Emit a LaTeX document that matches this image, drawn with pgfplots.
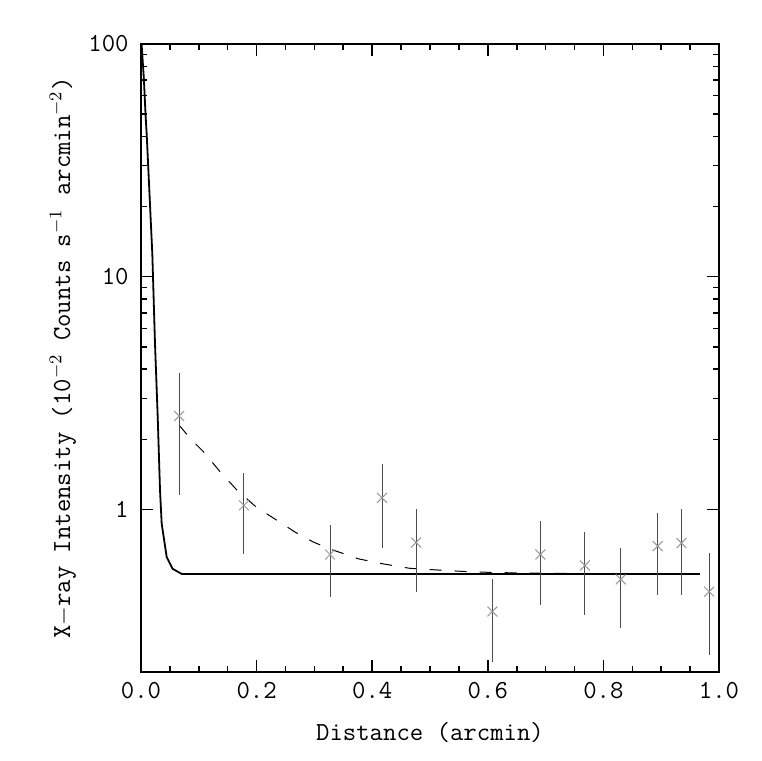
\documentclass[border=0pt]{standalone}
\usepackage{fontspec}
\usepackage{pgfplots}
\pgfplotsset{compat=1.18}
\begin{document}
\begin{tikzpicture}[font=\ttfamily\fontsize{13}{15}\selectfont]
\path[use as bounding box] (-70.5pt,-44.5pt) rectangle (310pt,336pt);
\begin{axis}[
  at={(0pt,0pt)}, anchor=south west,
  width=289pt, height=314pt, scale only axis,
  xmin=0, xmax=1, ymin=0.2, ymax=100, ymode=log,
  /pgf/number format/assume math mode=true,
  xtick={0,0.2,0.4,0.6,0.8,1}, minor x tick num=3,
  xticklabel={\pgfmathprintnumber[fixed,fixed zerofill,precision=1]{\tick}},
  ytick={1,10,100}, log ticks with fixed point,
  tick align=inside,
  major tick length=6pt, minor tick length=3pt,
  every tick/.style={black, line width=0.8pt},
  axis line style={line width=1pt},
  xticklabel style={inner sep=0pt, anchor=north, yshift=-5pt},
  yticklabel style={inner sep=0pt, anchor=east, xshift=-6pt},
  xlabel={Distance (arcmin)},
  xlabel style={at={(axis description cs:0.5,-0.1083)}, anchor=base},
  ylabel={X$-$ray Intensity (10$^{-2}$ Counts s$^{-1}$ arcmin$^{-2}$)},
  ylabel style={at={(axis description cs:-0.1228,0.5)}, anchor=base, rotate=0},
  clip=true,
]
\addplot[black, line width=0.9pt] coordinates {
(0.001,100) (0.005,70.7) (0.008,49) (0.010,40.3) (0.0196,12.5) (0.0242,5.18)
(0.0289,2.5) (0.0329,1.21) (0.0358,0.868) (0.0445,0.623) (0.0548,0.555)
(0.0704,0.528) (0.967,0.528)};
\addplot[black, line width=0.5pt, dash pattern=on 6pt off 6.5pt] coordinates {
(0.066,2.30) (0.085,2.02) (0.108,1.77) (0.137,1.45) (0.166,1.21) (0.200,1.02)
(0.2375,0.89) (0.266,0.80) (0.2976,0.725) (0.327,0.675) (0.355,0.64) (0.376,0.613)
(0.419,0.583) (0.465,0.558) (0.512,0.549) (0.558,0.541) (0.604,0.536) (0.65,0.533)
(0.70,0.531) (0.745,0.530)};
\addplot[only marks, mark=x, mark size=3.5pt,
  mark options={black!40, line width=0.5pt},
  error bars/.cd, y dir=both, y explicit, error mark=none,
  error bar style={black!70, line width=0.5pt}]
  table[x=x, y=y, y error plus=ep, y error minus=em] {
x      y      ep     em
0.066  2.52   1.35   1.363
0.178  1.04   0.39   0.40
0.327  0.64   0.22   0.22
0.417  1.12   0.44   0.44
0.476  0.72   0.28   0.28
0.608  0.364  0.136  0.143
0.691  0.64   0.25   0.25
0.768  0.574  0.226  0.224
0.830  0.50   0.18   0.19
0.894  0.695  0.265  0.265
0.935  0.716  0.284  0.286
0.983  0.443  0.207  0.206
};
\end{axis}
\end{tikzpicture}
\end{document}
